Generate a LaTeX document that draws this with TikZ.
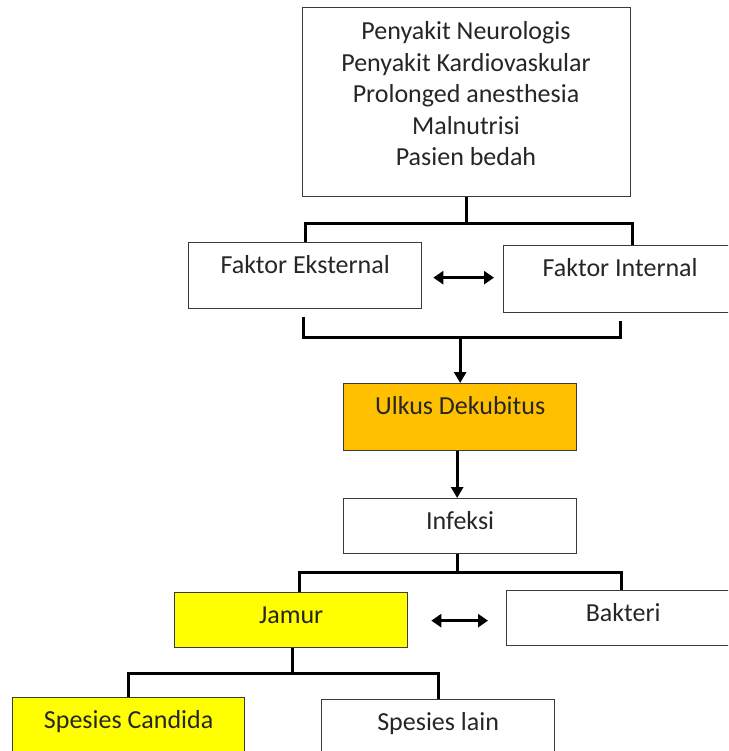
\documentclass[tikz,border=0pt]{standalone}
\usepackage{fontspec}
\setmainfont{Carlito}
\usetikzlibrary{arrows.meta}
\definecolor{boxline}{HTML}{3A3A3A}
\definecolor{txtc}{HTML}{262626}
\definecolor{ulkus}{HTML}{FFC000}
\definecolor{jamurc}{HTML}{FFFF00}
\begin{document}
\begin{tikzpicture}[x=1pt,y=-1pt,
  box/.style={draw=boxline, line width=1.3pt, inner sep=0pt, anchor=north west,
    text=txtc, font=\fontsize{26}{31.5}\selectfont, text height=31pt},
  txt/.style={text=txtc, font=\fontsize{26}{31.5}\selectfont, inner sep=0pt},
  conn/.style={line width=3pt, draw=black, line join=miter},
  arr/.style={conn, -{Triangle[length=11pt,width=12pt]}},
  darr/.style={conn, {Triangle[length=10pt,width=13pt]}-{Triangle[length=10pt,width=13pt]}}
]
\useasboundingbox (0,0) rectangle (728,751);
\fill[white] (0,0) rectangle (728,751);
\clip (0,0) rectangle (728,751);

\node[box, minimum width=328pt, minimum height=189pt] (top) at (302,7) {};
\node[txt, align=center] (toptext) at (466,94) {Penyakit Neurologis\\Penyakit Kardiovaskular\\Prolonged anesthesia\\Malnutrisi\\Pasien bedah};

\node[box, minimum width=233pt, minimum height=66pt, text depth=35pt] (fe) at (188,242) {Faktor Eksternal};
\node[box, minimum width=233pt, minimum height=67pt, text depth=36pt] (fi) at (503,245) {Faktor Internal};
\node[box, fill=ulkus, minimum width=233pt, minimum height=67pt, text depth=36pt] (ud) at (343,383) {Ulkus Dekubitus};
\node[box, minimum width=233pt, minimum height=55pt, text depth=24pt] (inf) at (343,498) {Infeksi};
\node[box, fill=jamurc, minimum width=233pt, minimum height=55pt, text depth=24pt] (jam) at (174,592) {Jamur};
\node[box, minimum width=233pt, minimum height=55pt, text depth=24pt] (bak) at (506,590) {Bakteri};
\node[box, fill=jamurc, minimum width=232pt, minimum height=70pt, text depth=39pt] (sc) at (12,697) {Spesies Candida};
\node[box, minimum width=233pt, minimum height=70pt, text depth=39pt] (sl) at (321,699) {Spesies lain};

% top box to factors
\coordinate (t1) at ([shift={(0,26)}]top.south);
\coordinate (fiT) at ([shift={(12,0)}]fi.north);
\draw[conn] (top.south) -- (t1);
\draw[conn] (fe.north) -- (fe.north |- t1) -- (fiT |- t1) -- (fiT);

% factors to ulkus
\coordinate (b1) at ([shift={(-2,28)}]fe.south);
\coordinate (feB) at ([shift={(-2,8)}]fe.south);
\coordinate (fiB) at ([shift={(0,8)}]fi.south);
\draw[conn] (feB) -- (b1) -| (fiB);
\draw[arr] (b1 -| ud.north) -- (ud.north);

% double arrow factors
\draw[darr] ([shift={(11,2)}]fe.east) -- ([shift={(-9,-1.5)}]fi.west);

% ulkus to infeksi
\draw[arr] ([shift={(-3,0)}]ud.south) -- ([shift={(-3,0)}]inf.north);

% infeksi to jamur / bakteri
\coordinate (i1) at ([shift={(-3,18)}]inf.south);
\coordinate (jamT) at ([shift={(8,0)}]jam.north);
\coordinate (bakT) at ([shift={(-2,0)}]bak.north);
\draw[conn] ([shift={(-3,0)}]inf.south) -- (i1);
\draw[conn] (jamT) -- (jamT |- i1) -- (bakT |- i1) -- (bakT);

% double arrow jamur bakteri
\draw[darr] ([shift={(23,0.5)}]jam.east) -- ([shift={(-18,2.5)}]bak.west);

% jamur to species
\coordinate (j1) at ([shift={(1.5,25)}]jam.south);
\draw[conn] ([shift={(1.5,0)}]jam.south) -- (j1);
\draw[conn] (sc.north) -- (sc.north |- j1) -- (sl.north |- j1) -- (sl.north);
\end{tikzpicture}
\end{document}
